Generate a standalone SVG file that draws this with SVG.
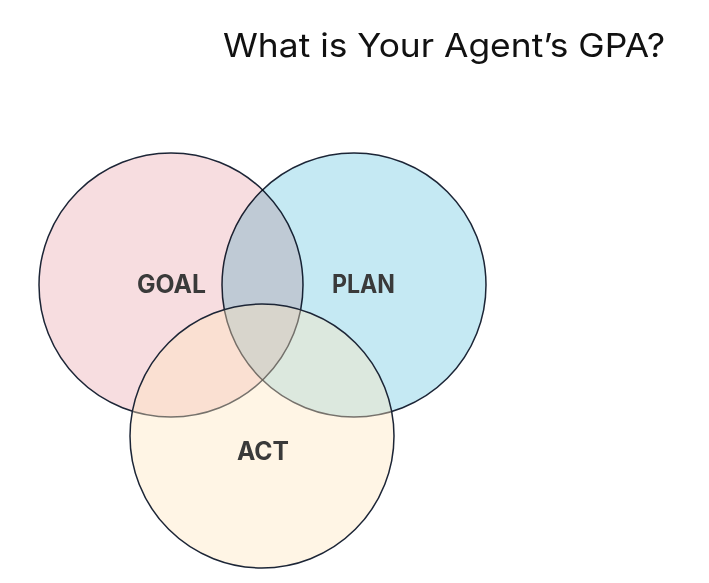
<svg xmlns="http://www.w3.org/2000/svg" width="709" height="583" viewBox="0 0 709 583">
  <style>
    .circ { stroke: #1c2536; stroke-width: 1.5; }
    .lbl { font-family: "Inter", "Open Sans", "Liberation Sans", sans-serif; font-weight: 700; font-size: 25px; fill: #3a3a3a; text-anchor: middle; }
    .title { font-family: "Inter", "Open Sans", "Liberation Sans", sans-serif; font-weight: 400; font-size: 33px; fill: #111111; }
  </style>
  <rect x="0" y="0" width="709" height="583" fill="#ffffff"/>
  <text class="title" x="223" y="57" textLength="442" lengthAdjust="spacingAndGlyphs">What is Your Agent’s GPA?</text>
  <g id="goal">
    <circle class="circ" cx="171" cy="285" r="132" fill="#f7dde0"/>
  </g>
  <g id="plan">
    <circle class="circ" cx="354" cy="285" r="132" fill="#c5e9f3" style="mix-blend-mode:multiply"/>
  </g>
  <g id="act">
    <circle cx="262" cy="436" r="132" fill="#ffe6be" fill-opacity="0.4" stroke="#1c2536" stroke-width="1.5"/>
  </g>
  <g id="labels">
    <text class="lbl" x="171.5" y="293" textLength="69" lengthAdjust="spacingAndGlyphs">GOAL</text>
    <text class="lbl" x="363.5" y="293" textLength="63" lengthAdjust="spacingAndGlyphs">PLAN</text>
    <text class="lbl" x="263" y="460" textLength="52" lengthAdjust="spacingAndGlyphs">ACT</text>
  </g>
  <g id="connectors"/>
</svg>
